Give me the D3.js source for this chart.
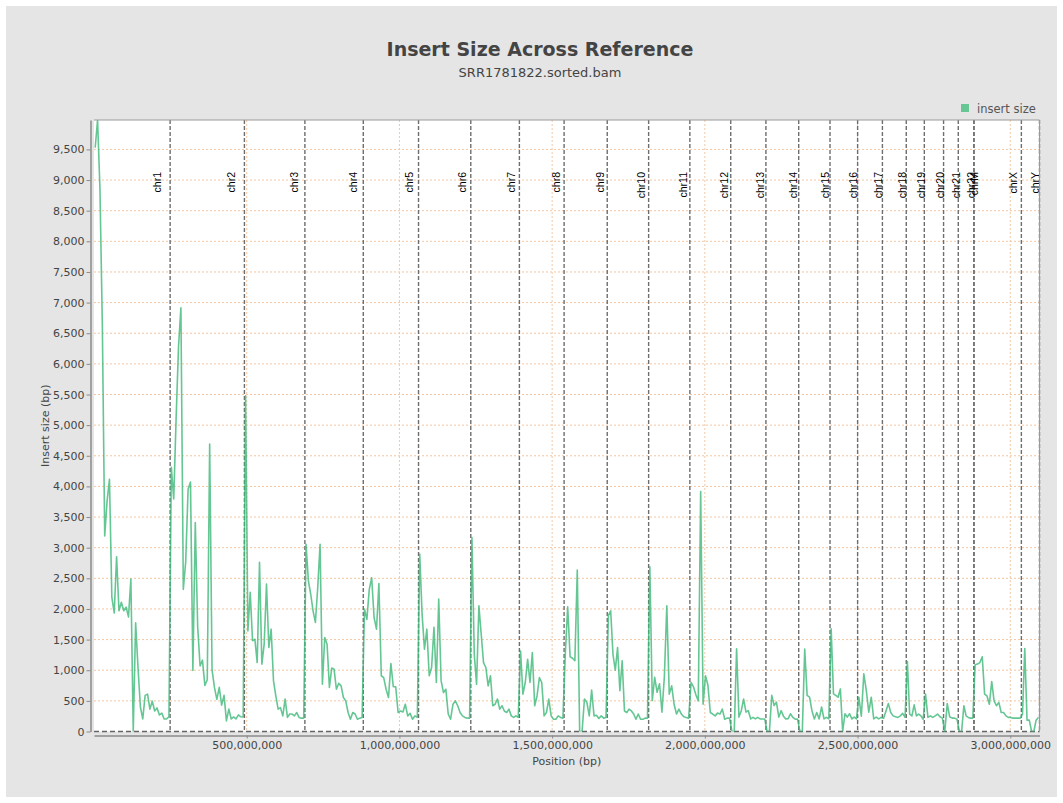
<!DOCTYPE html>
<html>
<head>
<meta charset="utf-8">
<script src="https://cdn.jsdelivr.net/npm/d3@7"></script>
<style>
    body { margin: 0; background: #fff; }
    svg { display: block; font-family: "DejaVu Sans", sans-serif; }
</style>
</head>
<body>
<svg width="1063" height="803"></svg>
<script>
// hg19 chromosome order and lengths (bp)
const chromNames = ["chr1", "chr2", "chr3", "chr4", "chr5", "chr6", "chr7", "chr8", "chr9", "chr10",
    "chr11", "chr12", "chr13", "chr14", "chr15", "chr16", "chr17", "chr18", "chr19", "chr20",
    "chr21", "chr22", "chrM", "chrX", "chrY"];
const chromLengths = [249250621, 243199373, 198022430, 191154276, 180915260, 171115067, 159138663,
    146364022, 141213431, 135534747, 135006516, 133851895, 115169878, 107349540, 102531392,
    90354753, 81195210, 78077248, 59128983, 63025520, 48129895, 51304566, 16571, 155270560, 59373566];

// mean insert size per window
const chr1 = [9530, 9980, 8860, 6650, 3190, 3760, 4115, 2190, 1935, 2850, 1970, 2110, 1970, 2030, 1870, 2490,
    0, 1775, 1040, 400, 205, 590, 610, 365, 495, 335, 385, 270, 300, 205, 205, 237];
const chr2 = [4310, 3795, 5110, 6275, 6915, 2320, 2770, 3955, 4070, 995, 3410, 1710, 1070, 1165, 750, 845,
    4690, 1005, 720, 525, 720, 430, 590, 173, 365, 205, 237, 205, 270, 240, 237];
const chr3 = [5480, 1640, 2270, 1480, 1505, 1125, 2760, 1100, 1425, 2405, 1370, 1670, 830, 580, 365, 390,
    255, 530, 230, 285, 285, 255, 310, 230, 218, 218];
const chr4 = [3055, 2460, 2240, 1970, 1780, 2350, 3055, 770, 1535, 1425, 720, 1035, 1015, 690, 785, 745,
    555, 500, 310, 200, 310, 285, 200, 218, 230];
const chr5 = [2000, 1830, 2320, 2510, 1860, 1670, 2415, 910, 880, 690, 555, 1110, 730, 730, 310, 335,
    320, 445, 255, 295, 200, 255, 230];
const chr6 = [2895, 1915, 1345, 1670, 910, 1045, 1700, 800, 2160, 830, 635, 690, 285, 200, 445, 500,
    420, 310, 255, 230, 218, 218];
const chr7 = [3165, 1260, 770, 2050, 1590, 1125, 1045, 745, 910, 420, 445, 530, 365, 420, 335, 310,
    365, 255, 230, 255, 230];
const chr8 = [1315, 610, 800, 1180, 800, 1290, 420, 580, 880, 800, 255, 310, 530, 255, 200, 200, 255, 230, 218];
const chr9 = [1260, 2035, 1220, 1195, 1155, 2635, 0, 0, 530, 475, 255, 675, 255, 265, 212, 255, 218, 230];
const chr10 = [1890, 1970, 1260, 1000, 1370, 665, 1155, 335, 310, 365, 335, 285, 200, 285, 200, 200, 218, 218];
const chr11 = [2690, 505, 885, 640, 780, 315, 900, 2050, 610, 745, 445, 285, 365, 285, 240, 230, 218];
const chr12 = [800, 730, 600, 500, 3915, 445, 910, 760, 310, 285, 255, 300, 285, 365, 200, 218, 218];
const chr13 = [0, 0, 1350, 235, 340, 530, 315, 340, 205, 230, 205, 230, 205, 205, 205];
const chr14 = [0, 0, 590, 425, 480, 235, 340, 250, 205, 210, 290, 230, 200, 205];
const chr15 = [0, 0, 1345, 590, 560, 340, 205, 310, 205, 400, 205, 230, 205];
const chr16 = [1675, 615, 590, 560, 695, 0, 290, 235, 290, 205, 235, 205];
const chr17 = [560, 250, 940, 670, 315, 560, 205, 235, 205, 230];
const chr18 = [218, 335, 455, 310, 255, 240, 230, 255, 295, 230];
const chr19 = [1140, 285, 255, 435, 255, 285, 255, 200];
const chr20 = [610, 230, 255, 230, 255, 285, 240, 218];
const chr21 = [0, 455, 240, 218, 218, 200];
const chr22 = [0, 0, 420, 255, 230, 218, 218];
const chrM = [];
const chrX = [1090, 1100, 1125, 1220, 610, 580, 445, 815, 500, 420, 475, 310, 310, 255, 230, 230, 218, 218, 218, 218];
const chrY = [285, 1355, 185, 185, 0, 0, 185, 230];

const insertSize = [chr1, chr2, chr3, chr4, chr5, chr6, chr7, chr8, chr9, chr10, chr11, chr12, chr13,
    chr14, chr15, chr16, chr17, chr18, chr19, chr20, chr21, chr22, chrM, chrX, chrY];

const yTicks = d3.range(0, 10000, 500);
const xTicks = [500000000, 1000000000, 1500000000, 2000000000, 2500000000, 3000000000];

const plot = { left: 94, right: 1039.5, top: 120, bottom: 731.5 };

const chromEnds = Array.from(d3.cumsum(chromLengths));
const genomeLength = chromEnds[chromEnds.length - 1];

// one point per window, at the window's centre
const points = [];
chromNames.forEach((name, c) => {
    const vals = insertSize[c];
    const start = chromEnds[c] - chromLengths[c];
    const step = chromLengths[c] / vals.length;
    vals.forEach((v, i) => points.push({ pos: start + (i + 0.5) * step, value: v }));
});

const x = d3.scaleLinear().domain([0, genomeLength]).range([plot.left, plot.right]);
const y = d3.scaleLinear().domain([0, 9980]).range([plot.bottom, plot.top]);

const svg = d3.select("svg");

// panel background
svg.append("rect")
    .attr("x", 6).attr("y", 6)
    .attr("width", 1051).attr("height", 791)
    .attr("fill", "#e5e5e5");

svg.append("rect")
    .attr("x", plot.left).attr("y", plot.top)
    .attr("width", plot.right - plot.left).attr("height", plot.bottom - plot.top)
    .attr("fill", "#fff");

// Title
svg.append("text")
    .attr("x", 540).attr("y", 56)
    .attr("text-anchor", "middle")
    .style("font-size", "19px")
    .style("font-weight", "bold")
    .attr("fill", "#444")
    .text("Insert Size Across Reference");

svg.append("text")
    .attr("x", 540).attr("y", 77)
    .attr("text-anchor", "middle")
    .style("font-size", "13px")
    .attr("fill", "#444")
    .text("SRR1781822.sorted.bam");

// Legend
svg.append("rect")
    .attr("x", 961).attr("y", 104)
    .attr("width", 8).attr("height", 8)
    .attr("fill", "#66c794");

svg.append("text")
    .attr("x", 977).attr("y", 112.5)
    .style("font-size", "11.5px")
    .attr("fill", "#555")
    .text("insert size");

// Grid lines
const grid = svg.append("g").attr("class", "grid");

grid.selectAll(".hgrid")
    .data(yTicks.filter(d => d > 0))
    .enter().append("line")
    .attr("x1", plot.left).attr("x2", plot.right)
    .attr("y1", d => y(d)).attr("y2", d => y(d))
    .attr("stroke", "#f3c7a3")
    .attr("stroke-width", 1)
    .attr("stroke-dasharray", "2,2");

grid.selectAll(".vgrid")
    .data(xTicks)
    .enter().append("line")
    .attr("x1", d => x(d)).attr("x2", d => x(d))
    .attr("y1", plot.top).attr("y2", plot.bottom)
    .attr("stroke", "#f3c7a3")
    .attr("stroke-width", 1)
    .attr("stroke-dasharray", "2,2");

// Chromosome end markers
const markers = svg.append("g").attr("class", "markers");

markers.selectAll("line")
    .data(chromEnds)
    .enter().append("line")
    .attr("x1", d => x(d)).attr("x2", d => x(d))
    .attr("y1", plot.top).attr("y2", plot.bottom)
    .attr("stroke", "#6e6e6e")
    .attr("stroke-width", 1.4)
    .attr("stroke-dasharray", "4,2");

// labels sit a little way back from the chromosome end
markers.selectAll("text")
    .data(chromNames)
    .enter().append("text")
    .attr("transform", (d, i) => {
        const lx = Math.min(x(chromEnds[i] - 0.174 * chromLengths[i]) + 4, plot.right - 1);
        return `translate(${lx},172) rotate(-90)`;
    })
    .attr("text-anchor", "end")
    .style("font-family", "'Liberation Sans', sans-serif")
    .style("font-size", "10.5px")
    .attr("fill", "#000")
    .text(d => d);

// dashed zero line
svg.append("line")
    .attr("x1", plot.left).attr("x2", plot.right)
    .attr("y1", y(0)).attr("y2", y(0))
    .attr("stroke", "#666")
    .attr("stroke-width", 1.4)
    .attr("stroke-dasharray", "5,3");

// Data line
svg.append("clipPath").attr("id", "plot-clip")
    .append("rect")
    .attr("x", plot.left).attr("y", plot.top)
    .attr("width", plot.right - plot.left).attr("height", plot.bottom - plot.top);

svg.append("path")
    .datum(points)
    .attr("clip-path", "url(#plot-clip)")
    .attr("fill", "none")
    .attr("stroke", "#3db878")
    .attr("stroke-opacity", 0.8)
    .attr("stroke-width", 1.6)
    .attr("stroke-linejoin", "round")
    .attr("d", d3.line()
        .x(d => x(d.pos))
        .y(d => y(d.value)));

// plot outline (top and right)
svg.append("path")
    .attr("d", `M${plot.left},${plot.top}H${plot.right}V${plot.bottom}`)
    .attr("fill", "none")
    .attr("stroke", "#9a9a9a")
    .attr("stroke-width", 1);

// Y Axis
const yAxis = svg.append("g")
    .attr("transform", "translate(90.5,0)")
    .call(d3.axisLeft(y)
        .tickValues(yTicks)
        .tickFormat(d3.format(","))
        .tickSize(4)
        .tickSizeOuter(0));

// X Axis
const xAxis = svg.append("g")
    .attr("transform", "translate(0,735.5)")
    .call(d3.axisBottom(x)
        .tickValues(xTicks)
        .tickFormat(d3.format(","))
        .tickSize(3)
        .tickSizeOuter(0));

[yAxis, xAxis].forEach(ax => {
    ax.select(".domain").attr("stroke", "#8a8a8a").attr("stroke-width", 1.5);
    ax.selectAll(".tick line").attr("stroke", "#8a8a8a");
    ax.selectAll(".tick text")
        .attr("fill", "#444")
        .style("font-family", "'DejaVu Sans', sans-serif")
        .style("font-size", "11px");
});
yAxis.selectAll(".tick text").attr("x", -6);

// Axis titles
svg.append("text")
    .attr("x", (plot.left + plot.right) / 2).attr("y", 765)
    .attr("text-anchor", "middle")
    .style("font-size", "11px")
    .attr("fill", "#444")
    .text("Position (bp)");

svg.append("text")
    .attr("transform", `translate(49,${(plot.top + plot.bottom) / 2}) rotate(-90)`)
    .attr("text-anchor", "middle")
    .style("font-size", "11px")
    .attr("fill", "#444")
    .text("Insert size (bp)");
</script>
</body>
</html>
